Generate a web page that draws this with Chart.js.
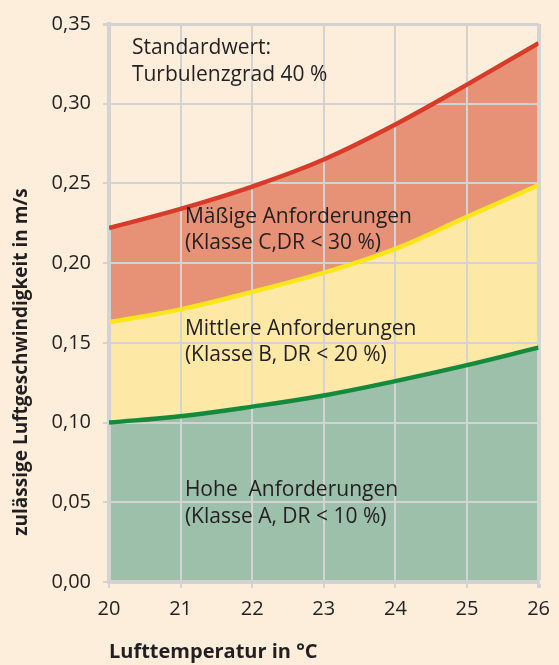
<!DOCTYPE html>
<html>
<head>
<meta charset="utf-8">
<script src="https://cdn.jsdelivr.net/npm/chart.js@4"></script>
<style>
  html, body { margin: 0; padding: 0; background: #fdeedb; }
  #wrap { width: 559px; height: 665px; }
</style>
</head>
<body>
<div id="wrap"><canvas id="myChart"></canvas></div>
<script>
const temps = [20, 21, 22, 23, 24, 25, 26];
const klasseA = [0.100, 0.104, 0.110, 0.117, 0.126, 0.136, 0.147]; // gruen
const klasseB = [0.163, 0.171, 0.182, 0.194, 0.209, 0.229, 0.249]; // gelb
const klasseC = [0.222, 0.234, 0.248, 0.265, 0.287, 0.312, 0.338]; // rot
const yTicks = [0, 0.05, 0.10, 0.15, 0.20, 0.25, 0.30, 0.35];

// Beschriftungen im Diagramm (x in °C, y in m/s)
const labels = [
  { x: 20.32, y: 0.335, text: 'Standardwert:' },
  { x: 20.32, y: 0.318, text: 'Turbulenzgrad 40 %' },
  { x: 21.06, y: 0.229, text: 'Mäßige Anforderungen' },
  { x: 21.06, y: 0.2127, text: '(Klasse C,DR < 30 %)' },
  { x: 21.06, y: 0.1587, text: 'Mittlere Anforderungen' },
  { x: 21.06, y: 0.1424, text: '(Klasse B, DR < 20 %)' },
  { x: 21.06, y: 0.0577, text: 'Hohe  Anforderungen' },
  { x: 21.06, y: 0.0408, text: '(Klasse A, DR < 10 %)' }
];

const gridCol = '#d3d3d3';
const fontFam = '"Open Sans", sans-serif';

const textPlugin = {
  id: 'texte',
  afterDatasetsDraw(chart) {
    const c = chart.ctx;
    const xs = chart.scales.x, ys = chart.scales.y;
    c.save();
    c.fillStyle = '#231f20';
    c.font = '21px ' + fontFam;
    c.textAlign = 'left';
    c.textBaseline = 'middle';
    labels.forEach(l => {
      c.fillText(l.text, xs.getPixelForValue(l.x), ys.getPixelForValue(l.y));
    });
    // y-Achsentitel
    c.font = 'bold 19px ' + fontFam;
    c.translate(22, 362);
    c.rotate(-Math.PI / 2);
    c.textAlign = 'center';
    c.fillText('zulässige Luftgeschwindigkeit in m/s', 0, 0);
    c.restore();
  }
};

// Filler zeichnet bei beforeDraw von hinten nach vorne:
// rot zuerst, dann gelb, dann gruen darueber
const ctx = document.getElementById('myChart');
new Chart(ctx, {
  type: 'line',
  data: {
    datasets: [
      {
        label: 'Klasse A',
        data: temps.map((t, i) => ({ x: t, y: klasseA[i] })),
        borderColor: '#168a3c',
        backgroundColor: '#9cc0aa',
        borderWidth: 4.5,
        fill: 'origin',
        tension: 0.4,
        pointRadius: 0
      },
      {
        label: 'Klasse B',
        data: temps.map((t, i) => ({ x: t, y: klasseB[i] })),
        borderColor: '#fbe51c',
        backgroundColor: '#fde8a6',
        borderWidth: 4.5,
        fill: 'origin',
        tension: 0.4,
        pointRadius: 0
      },
      {
        label: 'Klasse C',
        data: temps.map((t, i) => ({ x: t, y: klasseC[i] })),
        borderColor: '#d93b2b',
        backgroundColor: '#e79277',
        borderWidth: 4.5,
        fill: 'origin',
        tension: 0.4,
        pointRadius: 0
      }
    ]
  },
  options: {
    responsive: true,
    maintainAspectRatio: false,
    animation: false,
    layout: { padding: { top: 24, right: 11, left: 0, bottom: 0 } },
    plugins: {
      legend: { display: false },
      tooltip: { enabled: false },
      filler: { drawTime: 'beforeDraw' }
    },
    scales: {
      x: {
        type: 'linear',
        min: 20,
        max: 26,
        afterFit: s => { s.height = 83; },
        ticks: {
          stepSize: 1,
          color: '#231f20',
          font: { family: fontFam, size: 20 },
          padding: 9
        },
        grid: {
          color: gridCol,
          lineWidth: c => (c.tick && c.tick.value === 26 ? 4 : 2),
          tickLength: 6
        },
        border: { color: gridCol, width: 4 },
        title: {
          display: true,
          text: 'Lufttemperatur in °C',
          align: 'start',
          color: '#231f20',
          font: { family: fontFam, size: 20, weight: 'bold' },
          padding: { top: 0, bottom: 1 }
        }
      },
      y: {
        min: 0,
        max: 0.35,
        afterFit: s => { s.width = 109; },
        afterBuildTicks: s => { s.ticks = yTicks.map(v => ({ value: v })); },
        ticks: {
          color: '#231f20',
          font: { family: fontFam, size: 20 },
          padding: 12,
          callback: v => v.toFixed(2).replace('.', ',')
        },
        grid: {
          color: gridCol,
          lineWidth: c => (c.tick && c.tick.value === 0.35 ? 3 : 2),
          tickLength: 6
        },
        border: { color: gridCol, width: 4 }
      }
    }
  },
  plugins: [textPlugin]
});
</script>
</body>
</html>
